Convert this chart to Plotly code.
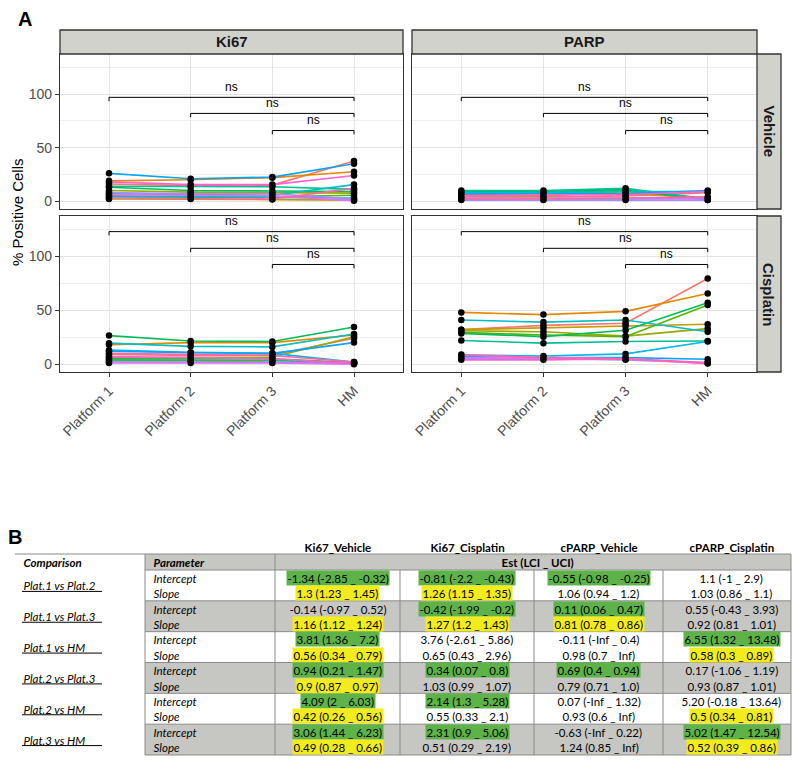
import plotly.graph_objects as go

# the page adds an 8px body margin, so the figure is drawn 16px smaller and
# positions below are given in window pixels and shifted by that margin
PAGE_W, PAGE_H, PAD = 800, 764, 8
W, H = PAGE_W - 2 * PAD, PAGE_H - 2 * PAD

# ---- panel A data ----
platforms = ["Platform 1", "Platform 2", "Platform 3", "HM"]
xpos = [1, 2, 3, 4]
markers = ["Ki67", "PARP"]
treatments = ["Vehicle", "Cisplatin"]

# ggplot hue palette, one colour per sample
sample_colors = ["#F8766D", "#E38900", "#C49A00", "#99A800", "#53B400", "#00BC56", "#00C094",
                 "#00BFC4", "#00B6EB", "#06A4FF", "#A58AFF", "#DF70F8", "#FB61D7", "#FF66A8"]

# % positive cells per sample: [Platform 1, Platform 2, Platform 3, HM]
ki67_vehicle = [[16, 14.5, 15, 37.5], [19, 20, 22, 27.5], [2, 2, 1.5, 1], [10, 8.5, 8, 7.5],
                [5, 4, 4, 5.5], [13, 10, 9.5, 9], [14, 13.5, 13.5, 11], [7, 6, 5.5, 15.5],
                [4, 3.5, 3, 3], [26, 21, 22.5, 35], [8, 7, 7, 2], [6, 5.5, 5, 0.5],
                [18, 15.5, 15.5, 24], [3, 2.5, 2, 12]]
parp_vehicle = [[4, 4, 5, 8], [6, 6, 7, 3], [5, 5, 9, 2], [7, 7, 9, 3],
                [8, 8, 10, 2], [9, 9, 11, 1], [10, 10, 12, 2], [8, 8, 9, 9],
                [2, 2, 2, 3], [7, 7, 7, 10], [1, 1, 1, 1], [3, 3, 3, 2],
                [5, 6, 6, 9], [2, 2, 3, 4]]
ki67_cisplatin = [[9, 8, 8.5, 24], [18, 20, 20, 27], [3, 3, 2, 1], [6, 6, 6.5, 25.5],
                  [5, 5, 5, 1.5], [26.5, 21.5, 21, 34.5], [4, 4, 3.5, 1], [19.5, 16.5, 16, 28],
                  [13, 11, 10, 2], [12, 10.5, 10, 20], [2, 2, 1.5, 0.5], [1, 1, 1, 0],
                  [7, 6, 5, 0.5], [10, 9, 8, 2]]
parp_cisplatin = [[32, 36, 38, 79.5], [48, 46, 49, 65.5], [32, 33.5, 35.5, 37], [31, 30, 26, 33],
                  [29.5, 27, 25.5, 55], [28.5, 25.5, 31.5, 57], [22, 19.5, 21, 21.5], [41, 39, 41, 30],
                  [8.5, 7.5, 9.5, 21], [7, 6, 6, 4.5], [5, 5, 4, 1], [6, 6, 5, 1.5],
                  [4, 4, 5, 0.5], [9, 6, 5, 1]]

bracket_pairs = [(1, 4), (2, 4), (3, 4)]
bracket_labels = ["ns", "ns", "ns"]
bracket_y_vehicle = [97, 82, 66]
bracket_y_cisplatin = [123, 107.5, 92.5]

# ---- panel B table ----
tbl_columns = ["Ki67_Vehicle", "Ki67_Cisplatin", "cPARP_Vehicle", "cPARP_Cisplatin"]
tbl_comparisons = ["Plat.1 vs Plat.2", "Plat.1 vs Plat.3", "Plat.1 vs HM",
                   "Plat.2 vs Plat.3", "Plat.2 vs HM", "Plat.3 vs HM"]
tbl_parameters = ["Intercept", "Slope"]
est_ki67_vehicle = ["-1.34 (-2.85 _ -0.32)", "1.3 (1.23 _ 1.45)", "-0.14 (-0.97 _ 0.52)", "1.16 (1.12 _ 1.24)",
                    "3.81 (1.36 _ 7.2)", "0.56 (0.34 _ 0.79)", "0.94 (0.21 _ 1.47)", "0.9 (0.87 _ 0.97)",
                    "4.09 (2 _ 6.03)", "0.42 (0.26 _ 0.56)", "3.06 (1.44 _ 6.23)", "0.49 (0.28 _ 0.66)"]
est_ki67_cisplatin = ["-0.81 (-2.2 _ -0.43)", "1.26 (1.15 _ 1.35)", "-0.42 (-1.99 _ -0.2)", "1.27 (1.2 _ 1.43)",
                      "3.76 (-2.61 _ 5.86)", "0.65 (0.43 _ 2.96)", "0.34 (0.07 _ 0.8)", "1.03 (0.99 _ 1.07)",
                      "2.14 (1.3 _ 5.28)", "0.55 (0.33 _ 2.1)", "2.31 (0.9 _ 5.06)", "0.51 (0.29 _ 2.19)"]
est_cparp_vehicle = ["-0.55 (-0.98 _ -0.25)", "1.06 (0.94 _ 1.2)", "0.11 (0.06 _ 0.47)", "0.81 (0.78 _ 0.86)",
                     "-0.11 (-Inf _ 0.4)", "0.98 (0.7 _ Inf)", "0.69 (0.4 _ 0.94)", "0.79 (0.71 _ 1.0)",
                     "0.07 (-Inf _ 1.32)", "0.93 (0.6 _ Inf)", "-0.63 (-Inf _ 0.22)", "1.24 (0.85 _ Inf)"]
est_cparp_cisplatin = ["1.1 (-1 _ 2.9)", "1.03 (0.86 _ 1.1)", "0.55 (-0.43 _ 3.93)", "0.92 (0.81 _ 1.01)",
                       "6.55 (1.32 _ 13.48)", "0.58 (0.3 _ 0.89)", "0.17 (-1.06 _ 1.19)", "0.93 (0.87 _ 1.01)",
                       "5.20 (-0.18 _ 13.64)", "0.5 (0.34 _ 0.81)", "5.02 (1.47 _ 12.54)", "0.52 (0.39 _ 0.86)"]
# g = significant intercept (green), y = significant slope (yellow)
hl_ki67_vehicle = ["g", "y", "", "y", "g", "y", "g", "y", "g", "y", "g", "y"]
hl_ki67_cisplatin = ["g", "y", "g", "y", "", "", "g", "", "g", "", "g", ""]
hl_cparp_vehicle = ["g", "", "g", "y", "", "", "g", "", "", "", "", ""]
hl_cparp_cisplatin = ["", "", "", "", "g", "y", "", "", "", "y", "g", "y"]

# ---- styling ----
FONT = "Liberation Sans"
TFONT = "Lato"
GRID = "#E4E4E0"
MINOR = "#F0F0EE"
FRAME = "#333333"
STRIP = "#D2D2CD"
TICKCOL = "#4D4D4D"
HL = {"g": "#5DB347", "y": "#F2EC1D", "": "rgba(0,0,0,0)"}
TGRAY = "#C6C6C2"
TLINE = "#8A8A8A"


def px(xp):
    return (xp - PAD) / W


def py(yp):
    return 1 - (yp - PAD) / H


col_px = [(60, 403), (412, 757)]
row_px = [(54, 209), (216, 372)]
y_range = [-7.3, 137.5]

fig = go.Figure()
layout = {}
shapes = []
annotations = []

panels = [(0, 0, ki67_vehicle, bracket_y_vehicle), (0, 1, parp_vehicle, bracket_y_vehicle),
          (1, 0, ki67_cisplatin, bracket_y_cisplatin), (1, 1, parp_cisplatin, bracket_y_cisplatin)]

for i, (r, c, data, by) in enumerate(panels):
    n = "" if i == 0 else str(i + 1)
    xref, yref = "x" + n, "y" + n
    for s, vals in enumerate(data):
        fig.add_trace(go.Scatter(x=xpos, y=vals, mode="lines+markers", xaxis=xref, yaxis=yref,
                                 line=dict(color=sample_colors[s], width=1.6),
                                 marker=dict(color="black", size=6.5), showlegend=False))
    layout["xaxis" + n] = dict(domain=[px(col_px[c][0]), px(col_px[c][1])], anchor=yref,
                              range=[0.4, 4.6], tickvals=xpos, ticktext=platforms,
                              showticklabels=(r == 1), ticks="outside" if r == 1 else "",
                              ticklen=4, tickcolor=FRAME, tickangle=-45, automargin=False,
                              tickfont=dict(family=FONT, size=14, color=TICKCOL),
                              showgrid=True, gridcolor=GRID, gridwidth=1, zeroline=False,
                              showline=True, mirror=True, linecolor=FRAME, linewidth=1.3)
    layout["yaxis" + n] = dict(domain=[py(row_px[r][1]), py(row_px[r][0])], anchor=xref,
                              range=y_range, tickvals=[0, 50, 100], automargin=False,
                              showticklabels=(c == 0), ticks="outside" if c == 0 else "",
                              ticklen=4, tickcolor=FRAME,
                              tickfont=dict(family=FONT, size=14, color=TICKCOL),
                              showgrid=True, gridcolor=GRID, gridwidth=1, zeroline=False,
                              minor=dict(tickvals=[25, 75, 125], showgrid=True, gridcolor=MINOR, ticks=""),
                              showline=True, mirror=True, linecolor=FRAME, linewidth=1.3)
    # significance brackets
    for (a, b), lab, yb in zip(bracket_pairs, bracket_labels, by):
        shapes.append(dict(type="path", xref=xref, yref=yref,
                           path=f"M {a} {yb - 3.5} L {a} {yb} L {b} {yb} L {b} {yb - 3.5}",
                           line=dict(color="black", width=1)))
        annotations.append(dict(x=(a + b) / 2, y=yb + 1.5, xref=xref, yref=yref, text=lab,
                                showarrow=False, xanchor="center", yanchor="bottom",
                                font=dict(family=FONT, size=12, color="black")))


def paper_note(x, y, text, size, color="black", angle=0):
    return dict(x=px(x), y=py(y), xref="paper", yref="paper", text=text, showarrow=False,
                xanchor="center", yanchor="middle", textangle=angle,
                font=dict(family=FONT, size=size, color=color))


# facet strips
for c, lab in enumerate(markers):
    x0, x1 = col_px[c]
    shapes.append(dict(type="rect", xref="paper", yref="paper", x0=px(x0), x1=px(x1),
                       y0=py(54), y1=py(30), fillcolor=STRIP,
                       line=dict(color=FRAME, width=1.3)))
    annotations.append(paper_note((x0 + x1) / 2, 42, f"<b>{lab}</b>", 15, "#1A1A1A"))
for r, lab in enumerate(treatments):
    y0, y1 = row_px[r]
    shapes.append(dict(type="rect", xref="paper", yref="paper", x0=px(757), x1=px(781),
                       y0=py(y1), y1=py(y0), fillcolor=STRIP,
                       line=dict(color=FRAME, width=1.3)))
    annotations.append(paper_note(769, (y0 + y1) / 2, f"<b>{lab}</b>", 15, "#1A1A1A", 90))

annotations.append(paper_note(18, 212, "% Positive Cells", 15, angle=-90))
annotations.append(paper_note(25, 19, "<b>A</b>", 20))
annotations.append(paper_note(15, 537, "<b>B</b>", 20))

# ---- table on a hidden axis pair (window-pixel units) ----
fig.add_trace(go.Scatter(x=[None], y=[None], xaxis="x5", yaxis="y5", showlegend=False))
layout["xaxis5"] = dict(domain=[0, 1], range=[PAD, PAD + W], visible=False, anchor="y5", automargin=False)
layout["yaxis5"] = dict(domain=[0, 1], range=[PAD + H, PAD], visible=False, anchor="x5", automargin=False)

tx = [145, 275, 400, 534, 663, 791]
head_top, head_bot, tbl_bot = 554, 570, 755
group_h = (tbl_bot - head_bot) / len(tbl_comparisons)
sub_h = group_h / 2
tref = dict(xref="x5", yref="y5")

shapes.append(dict(type="rect", **tref, x0=tx[0], x1=tx[-1], y0=head_top, y1=head_bot,
                   fillcolor=TGRAY, line=dict(width=0), layer="below"))
for g in range(len(tbl_comparisons)):
    top = head_bot + g * group_h
    if g % 2 == 1:
        shapes.append(dict(type="rect", **tref, x0=tx[0], x1=tx[-1], y0=top, y1=top + group_h,
                           fillcolor=TGRAY, line=dict(width=0), layer="below"))
for g in range(len(tbl_comparisons) + 1):
    yy = head_bot + g * group_h
    shapes.append(dict(type="line", **tref, x0=tx[0], x1=tx[-1], y0=yy, y1=yy,
                       line=dict(color=TLINE, width=1)))
shapes.append(dict(type="line", **tref, x0=15, x1=tx[-1], y0=head_top, y1=head_top,
                   line=dict(color=TLINE, width=1)))
for k, xx in enumerate(tx):
    ys = head_top if k in (0, 1, len(tx) - 1) else head_bot
    shapes.append(dict(type="line", **tref, x0=xx, x1=xx, y0=ys, y1=tbl_bot,
                       line=dict(color=TLINE, width=1)))

tfont = dict(family=TFONT, size=11.5, color="black")


def cell(x, y, text, anchor="center", bg="rgba(0,0,0,0)"):
    return dict(x=x, y=y, **tref, text=text, showarrow=False, xanchor=anchor, yanchor="middle",
                font=tfont, bgcolor=bg, borderpad=0.6)


col_mid = [(tx[k + 1] + (tx[k + 2] if k < 3 else 800)) / 2 for k in range(4)]
for k, lab in enumerate(tbl_columns):
    annotations.append(cell(col_mid[k], 547, f"<b>{lab}</b>"))
annotations.append(cell(22, (head_top + head_bot) / 2, "<b><i>Comparison</i></b>", "left"))
annotations.append(cell(152, (head_top + head_bot) / 2, "<b><i>Parameter</i></b>", "left"))
annotations.append(cell((tx[1] + 800) / 2, (head_top + head_bot) / 2, "<b>Est (LCI _ UCI)</b>"))

est_cols = [est_ki67_vehicle, est_ki67_cisplatin, est_cparp_vehicle, est_cparp_cisplatin]
hl_cols = [hl_ki67_vehicle, hl_ki67_cisplatin, hl_cparp_vehicle, hl_cparp_cisplatin]

for g, comp in enumerate(tbl_comparisons):
    top = head_bot + g * group_h
    annotations.append(cell(22, top + group_h / 2, f"<i>{comp}</i>", "left"))
    shapes.append(dict(type="line", **tref, x0=22, x1=102, y0=top + group_h / 2 + 6,
                       y1=top + group_h / 2 + 6, line=dict(color="black", width=1)))
    for p, par in enumerate(tbl_parameters):
        yc = top + sub_h * (p + 0.5)
        annotations.append(cell(152, yc, f"<i>{par}</i>", "left"))
        idx = g * 2 + p
        for k in range(len(est_cols)):
            annotations.append(cell(col_mid[k], yc, est_cols[k][idx], bg=HL[hl_cols[k][idx]]))

fig.update_layout(**layout)
fig.update_layout(width=W, height=H, margin=dict(l=0, r=0, t=0, b=0, autoexpand=False),
                  plot_bgcolor="rgba(0,0,0,0)", paper_bgcolor="white",
                  shapes=shapes, annotations=annotations, showlegend=False)

fig.write_html("out.html")
